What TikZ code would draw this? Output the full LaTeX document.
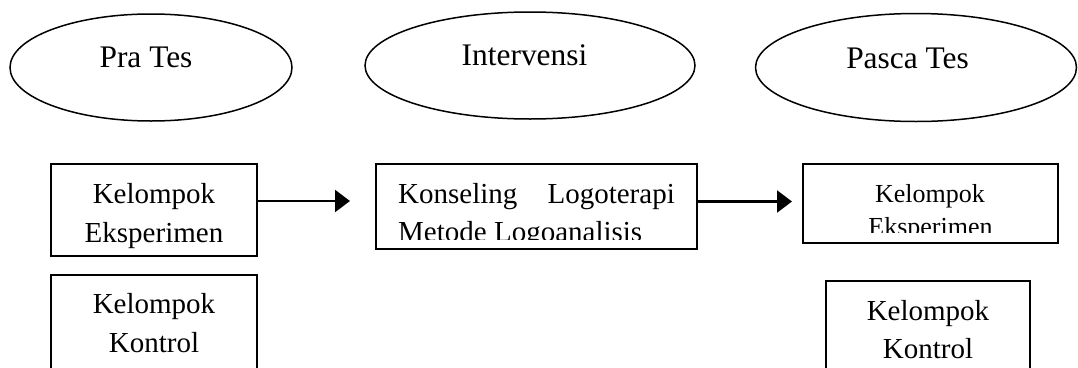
\documentclass[tikz,border=0pt]{standalone}
\usepackage{fontspec}
\setmainfont{Liberation Serif}
\usetikzlibrary{shapes.geometric,arrows.meta}
\begin{document}
\begin{tikzpicture}[x=1pt,y=-1pt,
  phase/.style={draw,ellipse,line width=1.5pt,inner sep=0pt},
  groupbox/.style={draw,rectangle,line width=1.2pt,inner sep=0pt},
  lbl/.style={anchor=base,inner sep=0pt,font=\fontsize{29}{35}\selectfont},
  smalllbl/.style={anchor=base,inner sep=0pt,font=\fontsize{26}{32}\selectfont},
  phaselbl/.style={anchor=base,inner sep=0pt,font=\fontsize{31.4}{38}\selectfont},
  flow/.style={line width=2.2pt,-{Triangle[length=15pt,width=22pt]}}]
\useasboundingbox (0,0) rectangle (1078,367);
\clip (0,0) rectangle (1078,367);

% phase headings
\node[phase,minimum width=282pt,minimum height=107pt] (pra) at (151,67.5) {};
\node[phaselbl] (praT) at (146,67) {Pra Tes};
\node[phase,minimum width=330pt,minimum height=107pt] (inv) at (530,65.5) {};
\node[phaselbl] (invT) at (524.5,65) {Intervensi};
\node[phase,minimum width=321pt,minimum height=108pt] (pasca) at (916,67.5) {};
\node[phaselbl] (pascaT) at (907.5,68) {Pasca Tes};

% pre-test groups
\node[groupbox,minimum width=206pt,minimum height=92pt] (preE) at (154,210) {};
\node[lbl] (preE1) at (154,203) {Kelompok};
\node[lbl] (preE2) at (154,242) {Eksperimen};
\node[groupbox,minimum width=206pt,minimum height=110pt] (preK) at (154,330) {};
\node[lbl] (preK1) at (154,313) {Kelompok};
\node[lbl] (preK2) at (154,352) {Kontrol};

% intervention
\node[groupbox,minimum width=321pt,minimum height=85pt] (treat) at (536.5,206.5) {};
\node[lbl,anchor=base west] (treat1) at (398,203) {Konseling};
\node[lbl,anchor=base east] (treat2) at (675,203) {Logoterapi};
\begin{scope}
  \clip (376,164) rectangle (697,239);
  \node[lbl,anchor=base west] (treat3) at (398,241) {Metode Logoanalisis};
\end{scope}

% post-test groups
\node[groupbox,minimum width=255pt,minimum height=79pt] (postE) at (930.5,203.5) {};
\node[smalllbl] (postE1) at (930,202) {Kelompok};
\begin{scope}
  \clip (803,164) rectangle (1058,232);
  \node[smalllbl] (postE2) at (930.5,235) {Eksperimen};
\end{scope}
\node[groupbox,minimum width=204pt,minimum height=110pt] (postK) at (928,336) {};
\node[lbl] (postK1) at (928,320) {Kelompok};
\node[lbl] (postK2) at (928,358) {Kontrol};

% flow arrows
\coordinate (a1) at (350,201);
\coordinate (a2) at (792,201.5);
\draw[flow] (preE.east |- a1) -- (a1);
\draw[flow] (treat.east |- a2) -- (a2);
\end{tikzpicture}
\end{document}
